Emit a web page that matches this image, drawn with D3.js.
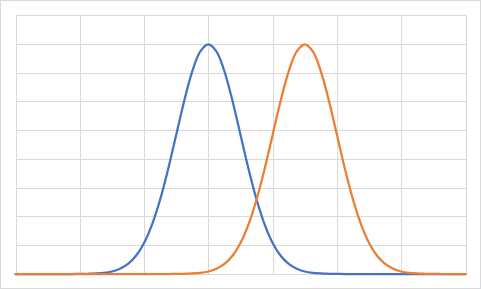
<!DOCTYPE html>
<html>
<head>
<meta charset="utf-8">
<script src="https://cdn.jsdelivr.net/npm/d3@7"></script>
<style>
  body { margin: 0; background: #fff; }
  svg { display: block; font-family: Calibri, "Liberation Sans", sans-serif; }
</style>
</head>
<body>
<div id="chart"></div>
<script>
// x positions of the points (both series share them)
const xValues = [-6, -5.75, -5.5, -5.25, -5, -4.75, -4.5, -4.25, -4, -3.75, -3.5, -3.25, -3, -2.75, -2.5, -2.25,
    -2, -1.75, -1.5, -1.25, -1, -0.75, -0.5, -0.25, 0, 0.25, 0.5, 0.75, 1, 1.25, 1.5, 1.75,
    2, 2.25, 2.5, 2.75, 3, 3.25, 3.5, 3.75, 4, 4.25, 4.5, 4.75, 5, 5.25, 5.5, 5.75,
    6, 6.25, 6.5, 6.75, 7, 7.25, 7.5, 7.75, 8];

// blue curve, peak around x = 0
const blueValues = [0, 0, 0, 0, 0, 0, 0, 0,
    0.0001, 0.0004, 0.0009, 0.0020, 0.0044, 0.0091, 0.0175, 0.0317, 0.0540, 0.0863, 0.1295, 0.1826, 0.2420, 0.3011, 0.3521, 0.3867,
    0.3989,
    0.3867, 0.3521, 0.3011, 0.2420, 0.1826, 0.1295, 0.0863, 0.0540, 0.0317, 0.0175, 0.0091, 0.0044, 0.0020, 0.0009, 0.0004, 0.0001,
    0, 0, 0, 0, 0, 0, 0, 0, 0, 0, 0, 0, 0, 0, 0, 0];

// orange curve, peak around x = 3
const orangeValues = [0, 0, 0, 0, 0, 0, 0, 0, 0, 0, 0, 0, 0, 0, 0, 0, 0, 0, 0, 0,
    0.0001, 0.0004, 0.0009, 0.0020, 0.0044, 0.0091, 0.0175, 0.0317, 0.0540, 0.0863, 0.1295, 0.1826, 0.2420, 0.3011, 0.3521, 0.3867,
    0.3989,
    0.3867, 0.3521, 0.3011, 0.2420, 0.1826, 0.1295, 0.0863, 0.0540, 0.0317, 0.0175, 0.0091, 0.0044, 0.0020, 0.0009, 0.0004, 0.0001,
    0, 0, 0, 0];

// gridline positions
const xTicks = [-6, -4, -2, 0, 2, 4, 6, 8];
const yTicks = [0, 0.05, 0.1, 0.15, 0.2, 0.25, 0.3, 0.35, 0.4, 0.45];

function main() {
    const width = 481;
    const height = 289;

    const svg = d3.select("#chart")
        .append("svg")
        .attr("width", width)
        .attr("height", height);

    // chart area border
    svg.append("rect")
        .attr("x", 0.5)
        .attr("y", 0.5)
        .attr("width", width - 1)
        .attr("height", height - 1)
        .attr("fill", "#fff")
        .attr("stroke", "#d9d9d9");

    const x = d3.scaleLinear().domain([-6, 8]).range([15.5, 465.5]);
    const y = d3.scaleLinear().domain([0, 0.45]).range([274, 15]);

    // vertical gridlines
    svg.append("g")
        .attr("transform", `translate(0,${y(0)})`)
        .call(d3.axisBottom(x).tickValues(xTicks).tickSize(-(y(0) - y(0.45))).tickFormat(""))
        .call(g => g.select(".domain").remove())
        .call(g => g.selectAll("line").attr("stroke", "#d9d9d9").attr("shape-rendering", "crispEdges"));

    // horizontal gridlines
    svg.append("g")
        .attr("transform", `translate(${x(-6)},0)`)
        .call(d3.axisLeft(y).tickValues(yTicks).tickSize(-(x(8) - x(-6))).tickFormat(""))
        .call(g => g.select(".domain").remove())
        .call(g => g.selectAll("line").attr("stroke", "#d9d9d9").attr("shape-rendering", "crispEdges"));

    const line = d3.line()
        .x(d => x(d[0]))
        .y(d => y(d[1]))
        .curve(d3.curveCatmullRom.alpha(0.5));

    const series = [
        { values: blueValues, color: "#4472c4" },
        { values: orangeValues, color: "#ed7d31" }
    ];

    svg.selectAll("path.series")
        .data(series)
        .enter()
        .append("path")
        .attr("class", "series")
        .attr("d", s => line(xValues.map((v, i) => [v, s.values[i]])))
        .attr("fill", "none")
        .attr("stroke", s => s.color)
        .attr("stroke-width", 2.25)
        .attr("stroke-linejoin", "round")
        .attr("stroke-linecap", "round");
}

main();
</script>
</body>
</html>
